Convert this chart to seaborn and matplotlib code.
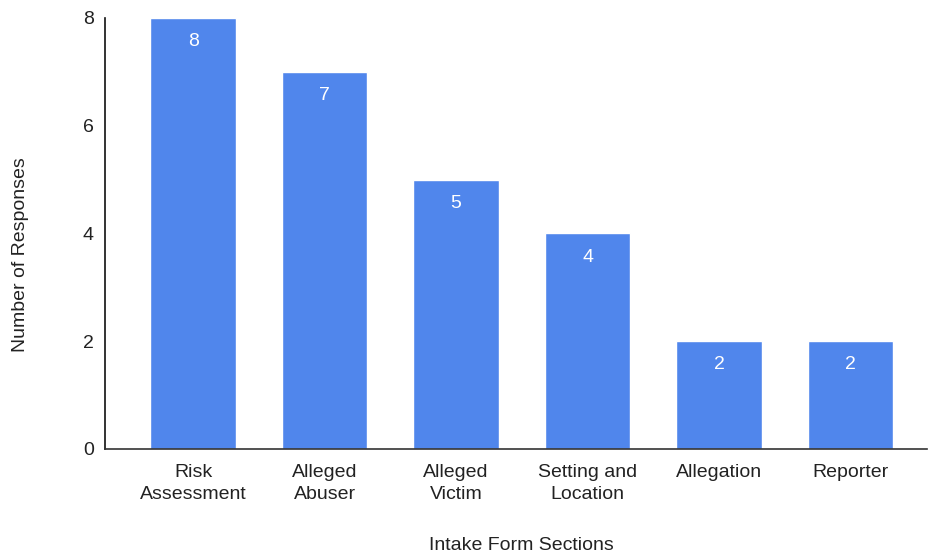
import matplotlib
matplotlib.use("Agg")
import matplotlib.pyplot as plt
import seaborn as sns
import pandas as pd

sections = ["Risk\nAssessment", "Alleged\nAbuser", "Alleged\nVictim",
            "Setting and\nLocation", "Allegation", "Reporter"]
responses = [8, 7, 5, 4, 2, 2]
y_ticks = [0, 2, 4, 6, 8]

sns.set_theme(style="white")
plt.rcParams["font.family"] = ["Liberation Sans", "DejaVu Sans"]

df = pd.DataFrame({"section": sections, "responses": responses})

fig = plt.figure(figsize=(9.3, 5.57), dpi=100)
ax = fig.add_axes([0.1129, 0.1939, 0.8839, 0.7738])

sns.barplot(data=df, x="section", y="responses", color="#5086EC",
            saturation=1, width=0.65, ax=ax)

for patch, val in zip(ax.patches, responses):
    ax.annotate(f"{val}", (patch.get_x() + patch.get_width() / 2, val),
                xytext=(0, -17), textcoords="offset points",
                ha="center", va="center", color="white", fontsize=14)

ax.set_ylim(0, 8)
ax.set_xlim(-0.67, 5.58)
ax.set_yticks(y_ticks)
ax.tick_params(axis="both", length=0, colors="#222222")
ax.tick_params(axis="y", labelsize=14, pad=8)
ax.tick_params(axis="x", labelsize=14, pad=11)
for lbl in ax.get_xticklabels():
    lbl.set_linespacing(1.35)

for side in ["top", "right"]:
    ax.spines[side].set_visible(False)
ax.spines["left"].set_color("#111111")
ax.spines["left"].set_linewidth(1.2)
ax.spines["bottom"].set_color("#333333")
ax.spines["bottom"].set_linewidth(1.2)

ax.set_xlabel("Intake Form Sections", fontsize=14, color="#222222")
ax.set_ylabel("Number of Responses", fontsize=14, color="#222222")
ax.xaxis.set_label_coords(0.507, -0.204)
ax.yaxis.set_label_coords(-0.092, 0.45)

fig.savefig("out.png", dpi=100)
